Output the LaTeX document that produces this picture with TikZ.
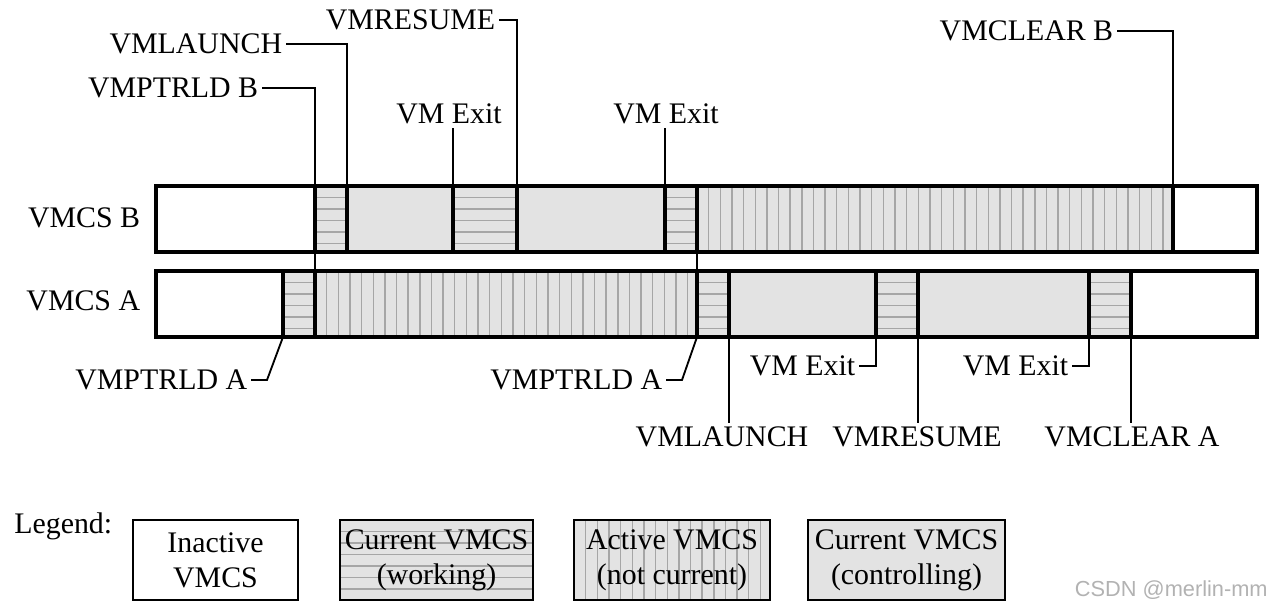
\documentclass[tikz,border=0pt]{standalone}
\usepackage{fontspec}
\setmainfont{Liberation Serif}
\newfontfamily\wmfont{Liberation Sans}
\definecolor{SegGray}{HTML}{E3E3E3}
\definecolor{HatchGray}{HTML}{A6A6A6}

\begin{document}
\begin{tikzpicture}[
  x=0.02cm,y=-0.02cm,
  every node/.style={font=\fontsize{17}{20}\selectfont},
  evt/.style={inner sep=2pt},
  bar/.style={line width=1.9pt},
  lead/.style={line width=1.05pt},
  hatchline/.style={draw=HatchGray,line width=0.8pt},
  ctrl/.style={fill=SegGray},
  working/.style={fill=SegGray,path picture={
      \foreach \k in {1,...,8}
        \draw[hatchline] ([yshift=-\k*2.3mm]path picture bounding box.north west)
          -- ([yshift=-\k*2.3mm]path picture bounding box.north east);}},
  notcur/.style={fill=SegGray,path picture={
      \foreach \k in {1,...,42}
        \draw[hatchline] ([xshift=\k*2.33mm]path picture bounding box.north west)
          -- ([xshift=\k*2.33mm]path picture bounding box.south west);}},
  key/.style={draw,line width=1.5pt,align=center,minimum height=1.6cm,inner sep=1pt}
]
\useasboundingbox (0,0) rectangle (1280,612);

% VMCS B
\foreach \a/\b/\s in {315/347/working,347/453/ctrl,453/517/working,517/665/ctrl,665/697/working,697/1173/notcur}
  \path[\s] (\a,186) rectangle (\b,252);
\foreach \x in {315,347,453,517,665,697,1173}
  \draw[bar] (\x,186) -- (\x,252);
\draw[bar] (156,186) rectangle (1257,252);
\node[evt,anchor=east] (rowB) at (144,218) {VMCS B};

% VMCS A
\foreach \a/\b/\s in {283/315/working,315/697/notcur,697/729/working,729/876/ctrl,876/918/working,918/1089/ctrl,1089/1131/working}
  \path[\s] (\a,271) rectangle (\b,337);
\foreach \x in {283,315,697,729,876,918,1089,1131}
  \draw[bar] (\x,271) -- (\x,337);
\draw[bar] (156,271) rectangle (1257,337);
\node[evt,anchor=east] (rowA) at (144,301) {VMCS A};

% event points
\coordinate (ptrB) at (315,271);
\coordinate (launchB) at (347,186);
\coordinate (exitB1) at (453,186);
\coordinate (resumeB) at (517,186);
\coordinate (exitB2) at (665,186);
\coordinate (clearB) at (1173,186);
\coordinate (ptrA1) at (283,337);
\coordinate (ptrA2) at (697,337);
\coordinate (ptrA2top) at (697,252);
\coordinate (launchA) at (729,337);
\coordinate (exitA1) at (876,337);
\coordinate (resumeA) at (918,337);
\coordinate (exitA2) at (1089,337);
\coordinate (clearA) at (1131,337);

% labels above
\node[evt,anchor=east] (lPtrB) at (262,88) {VMPTRLD B};
\node[evt,anchor=east] (lLaunchB) at (286,44) {VMLAUNCH};
\node[evt,anchor=east] (lResumeB) at (499,20) {VMRESUME};
\node[evt,anchor=east] (lClearB) at (1117,31) {VMCLEAR B};
\node[evt,anchor=south] (lExitB1) at (449,128) {VM Exit};
\node[evt,anchor=south] (lExitB2) at (666,128) {VM Exit};
\draw[lead] (lPtrB.east) -| (ptrB);
\draw[lead] (lLaunchB.east) -| (launchB);
\draw[lead] (lResumeB.east) -| (resumeB);
\draw[lead] (lClearB.east) -| (clearB);
\draw[lead] (lExitB1.south -| exitB1) -- (exitB1);
\draw[lead] (lExitB2.south -| exitB2) -- (exitB2);

% labels below
\node[evt,anchor=east] (lPtrA1) at (251,380) {VMPTRLD A};
\node[evt,anchor=east] (lPtrA2) at (666,380) {VMPTRLD A};
\node[evt,anchor=east] (lExitA1) at (859,366) {VM Exit};
\node[evt,anchor=east] (lExitA2) at (1072,366) {VM Exit};
\node[evt,anchor=north] (lLaunchA) at (722,423) {VMLAUNCH};
\node[evt,anchor=north] (lResumeA) at (917,423) {VMRESUME};
\node[evt,anchor=north] (lClearA) at (1132,423) {VMCLEAR A};
\draw[lead] (lPtrA1.east) -- ++(16,0) -- (ptrA1);
\draw[lead] (lPtrA2.east) -- ++(16,0) -- (ptrA2) -- (ptrA2top);
\draw[lead] (lExitA1.east) -| (exitA1);
\draw[lead] (lExitA2.east) -| (exitA2);
\draw[lead] (launchA) -- (lLaunchA.north -| launchA);
\draw[lead] (resumeA) -- (lResumeA.north -| resumeA);
\draw[lead] (clearA) -- (lClearA.north -| clearA);

% legend
\node[inner sep=0pt,anchor=base west] (legend) at (14,533) {Legend:};
\node[key,minimum width=3.3cm] (kIn) at (215.5,560) {Inactive\\VMCS};
\node[key,working,minimum width=3.86cm] (kWork) at (436.5,560) {Current VMCS\\(working)};
\node[key,notcur,minimum width=3.92cm] (kAct) at (672,560) {Active VMCS\\(not current)};
\node[key,ctrl,minimum width=3.94cm] (kCtrl) at (906.5,560) {Current VMCS\\(controlling)};
\node[inner sep=0pt,anchor=east,text=black!30,font=\wmfont\fontsize{12.4}{14}\selectfont] (wm) at (1268,590) {CSDN @merlin-mm};
\end{tikzpicture}
\end{document}
